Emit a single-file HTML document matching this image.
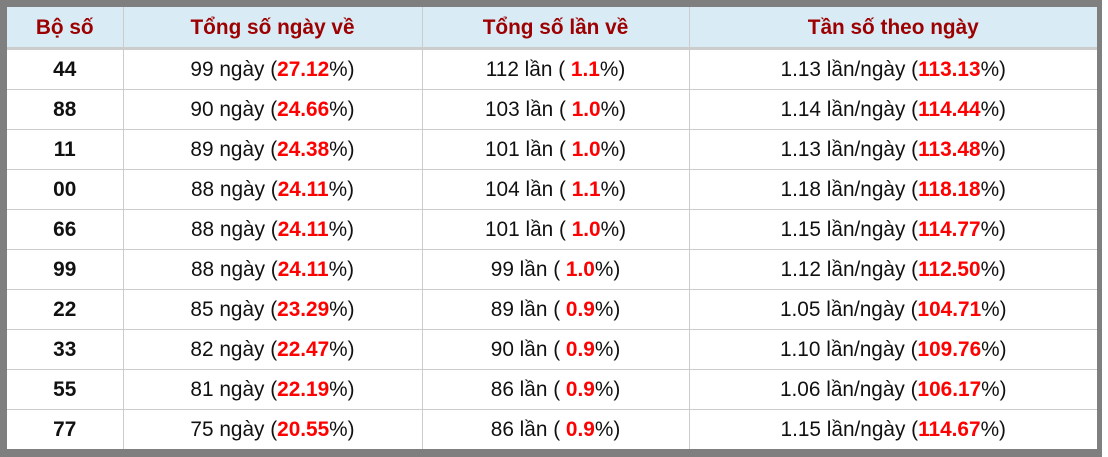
<!DOCTYPE html>
<html><head><style>
body{margin:0;background:#fff;width:1108px;height:457px;overflow:hidden;font-family:"Liberation Sans",sans-serif}
.f{position:absolute;left:0;top:0;width:1102px;height:457px;background:#7f7f7f}
table{position:absolute;left:7px;top:7px;width:1090px;border-collapse:collapse;background:#fff;table-layout:fixed}
th{height:38px;background:#d9ecf6;color:#9c0000;font-size:20.8px;font-weight:bold;border-right:1px solid #ccc;border-bottom:3px solid #ccc;padding:2px 0 0 0;vertical-align:middle}
td{height:39px;border-right:1px solid #ccc;border-bottom:1px solid #ccc;text-align:center;font-size:20.8px;color:#111;padding:0}
td:first-child{font-weight:bold}
th:last-child,td:last-child{border-right:none}
tr:last-child td{border-bottom:none}
b{color:#f00}
</style></head><body><div class="f"></div>
<table>
<colgroup><col style="width:116px"><col style="width:299px"><col style="width:267px"><col></colgroup>
<tr><th>Bộ số</th><th>Tổng số ngày về</th><th>Tổng số lần về</th><th>Tần số theo ngày</th></tr>
<tr><td>44</td><td>99 ngày (<b>27.12</b>%)</td><td>112 lần ( <b>1.1</b>%)</td><td>1.13 lần/ngày (<b>113.13</b>%)</td></tr>
<tr><td>88</td><td>90 ngày (<b>24.66</b>%)</td><td>103 lần ( <b>1.0</b>%)</td><td>1.14 lần/ngày (<b>114.44</b>%)</td></tr>
<tr><td>11</td><td>89 ngày (<b>24.38</b>%)</td><td>101 lần ( <b>1.0</b>%)</td><td>1.13 lần/ngày (<b>113.48</b>%)</td></tr>
<tr><td>00</td><td>88 ngày (<b>24.11</b>%)</td><td>104 lần ( <b>1.1</b>%)</td><td>1.18 lần/ngày (<b>118.18</b>%)</td></tr>
<tr><td>66</td><td>88 ngày (<b>24.11</b>%)</td><td>101 lần ( <b>1.0</b>%)</td><td>1.15 lần/ngày (<b>114.77</b>%)</td></tr>
<tr><td>99</td><td>88 ngày (<b>24.11</b>%)</td><td>99 lần ( <b>1.0</b>%)</td><td>1.12 lần/ngày (<b>112.50</b>%)</td></tr>
<tr><td>22</td><td>85 ngày (<b>23.29</b>%)</td><td>89 lần ( <b>0.9</b>%)</td><td>1.05 lần/ngày (<b>104.71</b>%)</td></tr>
<tr><td>33</td><td>82 ngày (<b>22.47</b>%)</td><td>90 lần ( <b>0.9</b>%)</td><td>1.10 lần/ngày (<b>109.76</b>%)</td></tr>
<tr><td>55</td><td>81 ngày (<b>22.19</b>%)</td><td>86 lần ( <b>0.9</b>%)</td><td>1.06 lần/ngày (<b>106.17</b>%)</td></tr>
<tr><td>77</td><td>75 ngày (<b>20.55</b>%)</td><td>86 lần ( <b>0.9</b>%)</td><td>1.15 lần/ngày (<b>114.67</b>%)</td></tr>
</table></body></html>
